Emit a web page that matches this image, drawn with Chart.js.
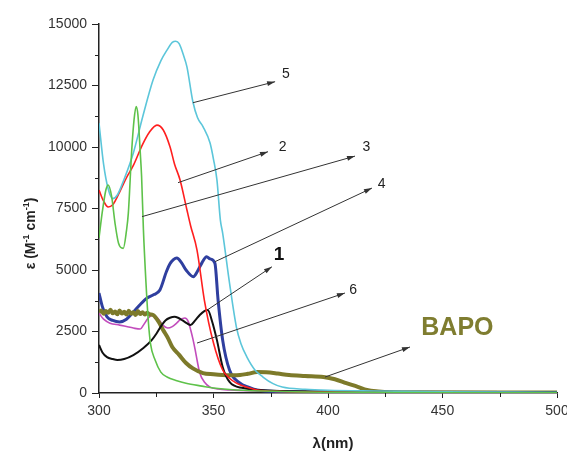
<!DOCTYPE html>
<html>
<head>
<meta charset="utf-8">
<script src="https://cdn.jsdelivr.net/npm/chart.js@4.4.0/dist/chart.umd.min.js"></script>
<style>
  html, body { margin: 0; padding: 0; background: #fff; }
</style>
</head>
<body>
<canvas id="myChart" width="567" height="451"></canvas>
<script>
// wavelengths (nm) and epsilon values
const wl5 = [300, 302, 304, 306, 308, 311, 315, 319, 323.6, 327, 329.7, 332, 333.5, 335, 337, 338.4, 341, 343, 345.4, 348.5, 350, 351.5, 353, 354, 357, 360, 362, 364.6, 368, 371.6, 376, 380, 390, 400, 420, 450, 500];
const eps5 = [10975, 9300, 8300, 7900, 8050, 8700, 9760, 11200, 12720, 13500, 13940, 14250, 14300, 14200, 13700, 13260, 11840, 11200, 10830, 10160, 9500, 8660, 7030, 6500, 4470, 2680, 2000, 1460, 950, 650, 380, 240, 150, 110, 80, 50, 30];

const wl2 = [300, 302, 304, 306, 309, 312, 315, 319, 322, 325.3, 328, 331, 333, 335.4, 338.4, 340, 342.8, 346, 350, 354, 357, 360, 365, 369, 380, 400, 450, 500];
const eps2 = [8250, 7800, 7560, 7650, 8170, 8750, 9250, 10100, 10600, 10890, 10700, 10010, 9300, 8660, 7440, 6800, 5810, 3780, 2030, 935, 600, 400, 220, 120, 60, 40, 20, 10];

const wl3 = [300, 301.5, 303, 304, 305.5, 307, 308.5, 310.6, 312, 312.8, 314.3, 315.3, 316.2, 317, 318, 318.6, 319.4, 320.5, 321.5, 322.5, 324.5, 327, 329.7, 334, 338, 345, 350, 360, 380, 400, 500];
const eps3 = [6300, 7400, 8250, 8455, 8000, 6900, 6100, 5880, 6600, 7300, 9880, 11100, 11640, 11300, 9800, 8800, 6630, 4500, 2970, 2000, 1340, 850, 650, 500, 400, 280, 200, 120, 60, 30, 10];

const wl4 = [300, 301.5, 303.5, 306, 309, 312, 315, 318, 321, 324, 326.6, 329.5, 331, 332.5, 334, 336, 338, 341.2, 343, 345, 347, 348.5, 350.6, 352, 354, 357, 361.6, 365, 369, 380, 400, 500];
const eps4 = [4065, 3500, 3090, 2950, 2890, 3000, 3290, 3600, 3860, 4000, 4190, 4950, 5250, 5420, 5490, 5300, 5000, 4730, 4950, 5300, 5540, 5450, 5280, 3780, 2150, 935, 400, 250, 120, 60, 30, 10];

const wl1 = [300, 301.5, 303.5, 306, 308, 311, 315, 319.4, 323, 325.2, 327.4, 329, 331, 333, 334.5, 336.5, 338.3, 340, 342, 344, 346, 347.5, 349.2, 351.5, 354, 357, 363, 370, 380, 400, 440, 500];
const eps1 = [1950, 1650, 1460, 1380, 1340, 1380, 1540, 1830, 2150, 2430, 2760, 2950, 3060, 3100, 3060, 2950, 2840, 2760, 2950, 3170, 3330, 3370, 2970, 2150, 1060, 450, 200, 120, 80, 60, 50, 30];

const wl6 = [300, 302, 304.8, 309, 312, 315, 318, 319.4, 321.5, 323.6, 326, 328, 330, 332, 334, 335.4, 337.5, 339, 339.7, 341, 342, 343, 344, 346, 348.5, 352, 357, 370, 400, 500];
const eps6 = [3240, 3000, 2840, 2760, 2700, 2640, 2600, 2760, 3050, 3170, 3000, 2750, 2640, 2700, 2850, 2970, 3050, 2900, 2680, 2200, 1750, 1250, 810, 450, 240, 160, 120, 80, 40, 20];

const wlB = [300, 301, 302, 303, 304, 305, 306, 307, 308, 309, 310, 311, 312, 313, 314, 315, 316, 317, 318, 319, 320, 321, 322, 323.6, 326, 328, 330, 332, 335, 338, 341, 345.4, 350, 354, 358, 361.6, 365, 369, 373, 378, 383, 390, 398, 403, 408, 413, 417, 422, 427, 440, 460, 500];
const epsB = [3290, 3350, 3220, 3330, 3260, 3380, 3240, 3310, 3200, 3350, 3230, 3300, 3190, 3340, 3220, 3280, 3170, 3330, 3210, 3280, 3190, 3260, 3200, 3170, 2900, 2560, 2250, 1870, 1550, 1220, 1000, 810, 760, 730, 720, 730, 780, 850, 840, 790, 730, 690, 650, 560, 400, 250, 120, 60, 30, 20, 20, 20];

const minorX = [325, 375, 425, 475];
const minorY = [1250, 3750, 6250, 8750, 11250, 13750];

// callouts: [from nm, from eps, to nm, to eps, label]
const callouts = [
    [341.0, 11800, 376.9, 12655, '5'],
    [334.5, 8550, 373.8, 9810, '2'],
    [318.8, 7170, 411.8, 9630, '3'],
    [350.7, 5340, 419.2, 8330, '4'],
    [347.2, 3370, 375.5, 5130, '1'],
    [342.8, 2030, 407.4, 4065, '6'],
    [398.7, 650, 435.8, 1870, 'BAPO']
];
const labelPos = {
    '5': [381.6, 12950], '2': [380.2, 10000], '3': [416.8, 9980], '4': [423.4, 8500],
    '1': [378.6, 5600], '6': [411.0, 4190], 'BAPO': [456.5, 2640]
};

function pts(xs, ys) { return xs.map((x, i) => ({ x: x, y: ys[i] })); }

function ds(label, xs, ys, color, width) {
    return {
        label: label, data: pts(xs, ys), borderColor: color, borderWidth: width,
        pointRadius: 0, fill: false, cubicInterpolationMode: 'monotone'
    };
}

const overlay = {
    id: 'overlay',
    afterDraw(chart) {
        const ctx = chart.ctx;
        const area = chart.chartArea;
        const x = chart.scales.x, y = chart.scales.y;
        ctx.save();
        ctx.strokeStyle = '#222';
        ctx.lineWidth = 1;
        minorX.forEach(v => {
            const px = Math.round(x.getPixelForValue(v)) + 0.5;
            ctx.beginPath(); ctx.moveTo(px, area.bottom); ctx.lineTo(px, area.bottom + 4); ctx.stroke();
        });
        minorY.forEach(v => {
            const py = Math.round(y.getPixelForValue(v)) + 0.5;
            ctx.beginPath(); ctx.moveTo(area.left, py); ctx.lineTo(area.left - 4, py); ctx.stroke();
        });

        // arrows
        ctx.strokeStyle = '#333';
        ctx.fillStyle = '#333';
        callouts.forEach(c => {
            const x1 = x.getPixelForValue(c[0]), y1 = y.getPixelForValue(c[1]);
            const x2 = x.getPixelForValue(c[2]), y2 = y.getPixelForValue(c[3]);
            const a = Math.atan2(y2 - y1, x2 - x1);
            ctx.beginPath(); ctx.moveTo(x1, y1); ctx.lineTo(x2, y2); ctx.stroke();
            ctx.beginPath();
            ctx.moveTo(x2, y2);
            ctx.lineTo(x2 - 8 * Math.cos(a) + 2.5 * Math.sin(a), y2 - 8 * Math.sin(a) - 2.5 * Math.cos(a));
            ctx.lineTo(x2 - 8 * Math.cos(a) - 2.5 * Math.sin(a), y2 - 8 * Math.sin(a) + 2.5 * Math.cos(a));
            ctx.closePath(); ctx.fill();
        });

        // labels
        ctx.textAlign = 'center';
        ctx.textBaseline = 'middle';
        Object.keys(labelPos).forEach(k => {
            const p = labelPos[k];
            if (k === 'BAPO') {
                ctx.font = 'bold 25px "Liberation Sans", Arial, sans-serif';
                ctx.fillStyle = '#7f7d30';
            } else if (k === '1') {
                ctx.font = 'bold 19px "Liberation Sans", Arial, sans-serif';
                ctx.fillStyle = '#111';
            } else {
                ctx.font = '14px "Liberation Sans", Arial, sans-serif';
                ctx.fillStyle = '#222';
            }
            ctx.fillText(k, x.getPixelForValue(p[0]), y.getPixelForValue(p[1]));
        });

        // x title
        ctx.fillStyle = '#222';
        ctx.font = 'bold 15px "Liberation Sans", Arial, sans-serif';
        ctx.fillText('λ(nm)', (area.left + area.right) / 2 + 5, area.bottom + 51);

        // y title with superscripts
        const parts = [['ε (M', false], ['-1', true], [' cm', false], ['-1', true], [')', false]];
        const big = 'bold 14px "Liberation Sans", Arial, sans-serif';
        const small = 'bold 9px "Liberation Sans", Arial, sans-serif';
        let total = 0;
        parts.forEach(p => { ctx.font = p[1] ? small : big; total += ctx.measureText(p[0]).width; });
        ctx.translate(area.left - 69, (area.top + area.bottom) / 2 + 25);
        ctx.rotate(-Math.PI / 2);
        ctx.textAlign = 'left';
        ctx.textBaseline = 'alphabetic';
        let cx = -total / 2;
        parts.forEach(p => {
            ctx.font = p[1] ? small : big;
            ctx.fillText(p[0], cx, p[1] ? -1 : 5);
            cx += ctx.measureText(p[0]).width;
        });
        ctx.restore();
    }
};

const ctx = document.getElementById('myChart').getContext('2d');
const chart = new Chart(ctx, {
    type: 'line',
    data: {
        datasets: [
            ds('3', wl3, eps3, '#5ec24a', 1.6),
            ds('5', wl5, eps5, '#5cc6da', 1.6),
            ds('2', wl2, eps2, '#ff1f1f', 1.6),
            ds('1', wl1, eps1, '#111111', 2),
            ds('BAPO', wlB, epsB, '#7d7a2a', 4),
            ds('6', wl6, eps6, '#c24cbc', 1.6),
            ds('4', wl4, eps4, '#2f3f9f', 3)
        ]
    },
    options: {
        responsive: false,
        animation: false,
        devicePixelRatio: 1,
        layout: { padding: { left: 0, top: 24, right: 10, bottom: 0 } },
        plugins: { legend: { display: false }, tooltip: { enabled: false } },
        scales: {
            x: {
                type: 'linear', min: 300, max: 500,
                border: { display: true, color: '#222', width: 1.5 },
                grid: { drawOnChartArea: false, drawTicks: true, tickLength: 5, color: '#222' },
                ticks: {
                    stepSize: 50, padding: 5, color: '#333', maxRotation: 0,
                    font: { family: '"Liberation Sans", Arial, sans-serif', size: 14 },
                    callback: v => String(v)
                },
                afterFit: s => { s.height = 58; s.paddingLeft = 0; s.paddingRight = 0; }
            },
            y: {
                min: 0, max: 15000,
                border: { display: true, color: '#222', width: 1.5 },
                grid: { drawOnChartArea: false, drawTicks: true, tickLength: 7, color: '#222' },
                ticks: {
                    stepSize: 2500, padding: 5, color: '#333',
                    font: { family: '"Liberation Sans", Arial, sans-serif', size: 14 },
                    callback: v => String(v)
                },
                afterFit: s => { s.width = 99; s.paddingTop = 0; s.paddingBottom = 0; }
            }
        }
    },
    plugins: [overlay]
});
</script>
</body>
</html>
